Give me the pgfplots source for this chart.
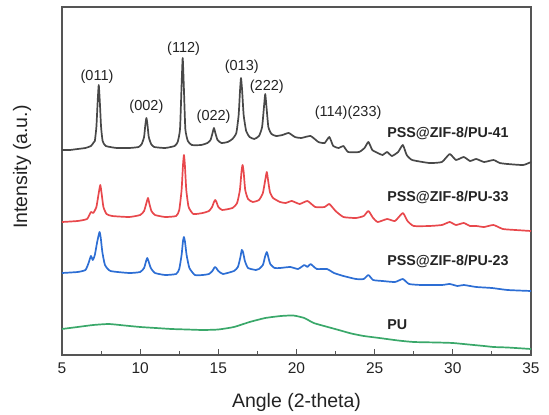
\documentclass[border=0pt]{standalone}
\usepackage{pgfplots}
\pgfplotsset{compat=1.18}
\usepackage{fontspec}
\setmainfont{Liberation Sans}
\definecolor{frame}{RGB}{85,85,85}
\definecolor{txt}{RGB}{35,35,35}
\definecolor{cBlack}{RGB}{72,72,72}
\definecolor{cRed}{RGB}{232,72,76}
\definecolor{cBlue}{RGB}{45,110,212}
\definecolor{cGreen}{RGB}{58,168,106}
\begin{document}
\begin{tikzpicture}[x=1pt,y=1pt]
\path[use as bounding box] (-62pt,-60pt) rectangle (487pt,355pt);
\begin{axis}[
    name=main, at={(0,0)}, anchor=south west,
    scale only axis, width=469pt, height=348pt,
    xmin=5, xmax=35, ymin=0, ymax=348,
    xtick={5,10,...,35}, minor x tick num=1,
    xtick pos=left, ytick=\empty,
    tick align=inside,
    major tick length=6pt, minor tick length=3.5pt,
    axis line style={frame, line width=1.2pt},
    every tick/.style={frame, line width=1pt},
    ticklabel style={font=\fontsize{15.5}{17}\selectfont, text=txt},
    /pgf/number format/assume math mode=true,
    xticklabel style={yshift=-4pt},
    xlabel={Angle (2-theta)}, ylabel={Intensity (a.u.)},
    label style={font=\fontsize{19.5}{22}\selectfont, text=txt},
    xlabel style={at={(axis description cs:0.5,-0.135)}, anchor=center},
    ylabel style={at={(axis description cs:-0.085,0.54)}, anchor=center},
    clip=false,
    every axis plot/.append style={line width=1.7pt, line join=round, smooth, tension=0.3},
]
% PSS@ZIF-8/PU-41
\addplot[cBlack] coordinates {
(5,205) (5.5,205) (6,206) (6.5,207) (6.85,209) (7.0,212) (7.1,214) (7.2,228) (7.28,253) (7.35,270) (7.42,253) (7.5,228) (7.6,214) (7.8,209) (8.5,207) (9.3,207)
(9.9,208) (10.1,211) (10.25,218) (10.33,230) (10.4,237) (10.47,230) (10.55,218) (10.7,211) (10.9,208) (11.6,207)
(12.2,209) (12.4,213) (12.55,226) (12.65,270) (12.72,297) (12.79,270) (12.89,226) (13.05,214) (13.3,210) (13.9,210)
(14.3,212) (14.5,215) (14.63,222) (14.72,227) (14.81,222) (14.95,215) (15.2,212)
(15.6,213) (15.9,216) (16.15,222) (16.3,240) (16.39,265) (16.45,277) (16.52,265) (16.62,240) (16.78,224) (17.0,218)
(17.3,216) (17.6,219) (17.8,228) (17.93,250) (18.0,261) (18.07,250) (18.2,228) (18.4,221) (18.7,219)
(19.1,220) (19.5,222) (19.9,218) (20.3,217) (20.9,219) (21.4,213) (21.8,212) (22.1,218) (22.35,209) (22.7,207) (23.0,209) (23.3,203) (24.0,203) (24.35,207) (24.6,213) (24.85,205) (25.2,202) (25.5,200) (25.8,203) (26.1,199) (26.5,203) (26.8,210) (27.05,200) (27.4,195) (28.5,192) (29.3,193) (29.8,201) (30.2,195) (30.7,198) (31.1,194) (31.5,196) (32.0,193) (32.6,195) (33.0,192) (33.5,191) (34.5,190) (35,193)
};
% PSS@ZIF-8/PU-33
\addplot[cRed] coordinates {
(5,133) (6,134) (6.6,136) (6.85,143) (7.0,142) (7.2,148) (7.35,162) (7.45,170) (7.53,162) (7.65,148) (7.85,141) (8.2,139) (9.3,138)
(10.0,140) (10.25,144) (10.4,152) (10.5,157) (10.58,152) (10.72,144) (10.95,140) (11.6,138)
(12.3,139) (12.5,145) (12.65,165) (12.74,190) (12.8,200) (12.86,190) (12.95,165) (13.1,148) (13.4,141) (14.0,142)
(14.4,144) (14.6,148) (14.72,153) (14.8,155) (14.88,153) (15.0,148) (15.25,145)
(15.9,147) (16.2,152) (16.38,165) (16.48,183) (16.55,190) (16.62,183) (16.72,165) (16.9,156) (17.2,153)
(17.6,155) (17.85,162) (18.0,175) (18.1,183) (18.18,175) (18.3,163) (18.5,157) (18.95,153)
(19.3,152) (19.7,154) (20.2,151) (20.7,154) (21.2,148) (21.8,148) (22.1,151) (22.5,144) (23.0,138) (23.8,137) (24.3,139) (24.6,144) (24.9,137) (25.2,133) (25.8,136) (26.3,134) (26.8,142) (27.1,134) (27.5,129) (28.5,129) (29.3,130) (29.8,133) (30.2,130) (30.7,132) (31.1,129) (31.5,129) (32.0,128) (32.6,130) (33.2,126) (34,125) (35,124)
};
% PSS@ZIF-8/PU-23
\addplot[cBlue] coordinates {
(5,82) (6,83) (6.5,85) (6.7,92) (6.85,99) (6.97,95) (7.1,100) (7.25,113) (7.4,123) (7.48,117) (7.58,103) (7.75,90) (8.1,84) (9.3,82)
(10.0,83) (10.25,87) (10.38,94) (10.45,97) (10.53,94) (10.68,87) (10.95,82) (11.6,80)
(12.3,81) (12.5,86) (12.65,100) (12.74,114) (12.8,118) (12.87,113) (12.97,100) (13.15,87) (13.5,80) (14.0,80)
(14.4,81) (14.62,84) (14.73,87) (14.8,88) (14.87,87) (15.0,84) (15.3,81)
(16.0,84) (16.25,88) (16.4,97) (16.5,105) (16.58,103) (16.7,94) (16.9,87) (17.4,85)
(17.6,86) (17.85,90) (18.0,99) (18.1,103) (18.18,99) (18.32,91) (18.6,87)
(18.95,87) (19.6,88) (20.1,86) (20.5,90) (20.7,88) (20.9,91) (21.3,86) (21.95,86) (22.4,82) (23.0,79) (23.8,76) (24.3,76) (24.6,80) (24.9,75) (25.5,74) (26.3,73) (26.8,76) (27.2,71) (28,70) (29.3,70) (29.8,71) (30.3,69) (30.7,70) (31.5,68) (32.5,67) (33.5,65) (35,64)
};
% PU
\addplot[cGreen] coordinates {
(5,26) (6,28) (7,30) (8,31) (9,29.5) (10,28) (11,27) (12,26) (13,25.5) (14,25) (15,25.5) (16,28) (17,33) (18,37) (19,39) (19.8,39.5) (20.5,37) (21.1,32) (22,28) (22.7,25) (23.5,21.5) (24.3,19) (25.3,17) (26.5,14.5) (27.5,13) (29,12.5) (30,12) (31,10.5) (32,9) (32.6,8) (33.5,7.5) (35,6)
};
\begin{scope}[every node/.style={font=\fontsize{14.5}{16}\selectfont, text=txt}]
\node at (axis cs:7.24,278) {(011)};
\node at (axis cs:10.4,248) {(002)};
\node at (axis cs:12.78,306) {(112)};
\node at (axis cs:14.7,238) {(022)};
\node at (axis cs:16.5,288) {(013)};
\node at (axis cs:18.1,268) {(222)};
\node at (axis cs:23.3,242) {(114)(233)};
\end{scope}
\begin{scope}[every node/.style={font=\fontsize{14.3}{16}\selectfont\bfseries, text=txt, anchor=west, inner sep=0pt}]
\node at (axis cs:25.8,222) {PSS@ZIF-8/PU-41};
\node at (axis cs:25.8,158) {PSS@ZIF-8/PU-33};
\node at (axis cs:25.8,94) {PSS@ZIF-8/PU-23};
\node at (axis cs:25.8,30) {PU};
\end{scope}
\end{axis}
\end{tikzpicture}
\end{document}
